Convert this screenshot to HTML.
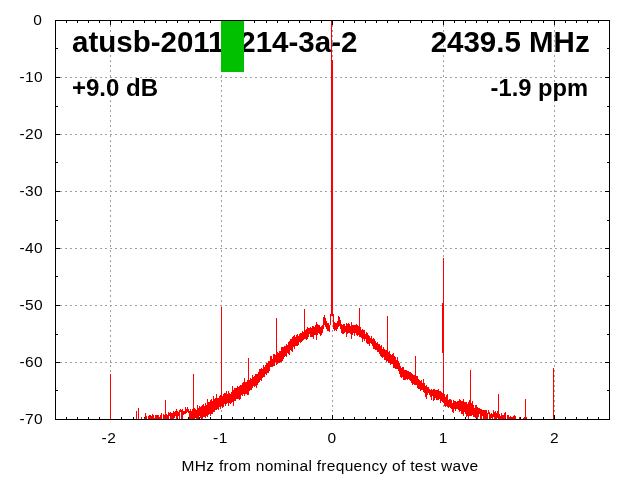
<!DOCTYPE html>
<html><head><meta charset="utf-8"><style>
html,body{margin:0;padding:0;background:#fff;width:640px;height:480px;overflow:hidden}
svg{display:block;will-change:transform}
text{font-family:"Liberation Sans",sans-serif}
</style></head><body>
<svg width="640" height="480" viewBox="0 0 640 480">
<rect width="640" height="480" fill="#fff"/>
<path d="M55,362.5 H609 M55,305.5 H609 M55,248.5 H609 M55,191.5 H609 M55,134.5 H609 M55,77.5 H609 M110.5,20 V419 M221.5,20 V419 M332.5,20 V419 M443.5,20 V419 M554.5,20 V419" stroke="#a0a0a0" stroke-width="1" stroke-dasharray="2,3" fill="none"/>
<g font-size="15.5" fill="#000" letter-spacing="0.4"><text x="42.300000000000004" y="25.0" text-anchor="end">0</text><text x="43.1" y="82.0" text-anchor="end">-10</text><text x="43.1" y="139.0" text-anchor="end">-20</text><text x="43.1" y="196.0" text-anchor="end">-30</text><text x="43.1" y="253.0" text-anchor="end">-40</text><text x="43.1" y="310.0" text-anchor="end">-50</text><text x="43.1" y="367.0" text-anchor="end">-60</text><text x="43.1" y="424.0" text-anchor="end">-70</text><text x="108.9" y="443" text-anchor="middle">-2</text><text x="220.4" y="443" text-anchor="middle">-1</text><text x="332.0" y="443" text-anchor="middle">0</text><text x="443.3" y="443" text-anchor="middle">1</text><text x="554.6" y="443" text-anchor="middle">2</text>
<text x="330" y="471" text-anchor="middle" letter-spacing="0.3">MHz from nominal frequency of test wave</text></g>
<g font-weight="bold" fill="#000">
<text x="72" y="52" font-size="29.5">atusb-20111214-3a-2</text>
<text x="589.7" y="52" font-size="29.5" text-anchor="end">2439.5 MHz</text>
<text x="72" y="95.5" font-size="24">+9.0 dB</text>
<text x="588" y="95.5" font-size="23.7" text-anchor="end">-1.9 ppm</text>
</g>
<path d="M55,20.5 h5 M610,20.5 h-5 M55,48.5 h3 M610,48.5 h-3 M55,77.5 h5 M610,77.5 h-5 M55,106.5 h3 M610,106.5 h-3 M55,134.5 h5 M610,134.5 h-5 M55,162.5 h3 M610,162.5 h-3 M55,191.5 h5 M610,191.5 h-5 M55,220.5 h3 M610,220.5 h-3 M55,248.5 h5 M610,248.5 h-5 M55,276.5 h3 M610,276.5 h-3 M55,305.5 h5 M610,305.5 h-5 M55,334.5 h3 M610,334.5 h-3 M55,362.5 h5 M610,362.5 h-5 M55,390.5 h3 M610,390.5 h-3 M55,419.5 h5 M610,419.5 h-5 M55.5,420 v-3 M55.5,20 v3 M66.5,420 v-3 M66.5,20 v3 M77.5,420 v-3 M77.5,20 v3 M88.5,420 v-3 M88.5,20 v3 M99.5,420 v-3 M99.5,20 v3 M110.5,420 v-5 M110.5,20 v5 M121.5,420 v-3 M121.5,20 v3 M133.5,420 v-3 M133.5,20 v3 M144.5,420 v-3 M144.5,20 v3 M155.5,420 v-3 M155.5,20 v3 M166.5,420 v-3 M166.5,20 v3 M177.5,420 v-3 M177.5,20 v3 M188.5,420 v-3 M188.5,20 v3 M199.5,420 v-3 M199.5,20 v3 M210.5,420 v-3 M210.5,20 v3 M221.5,420 v-5 M221.5,20 v5 M232.5,420 v-3 M232.5,20 v3 M243.5,420 v-3 M243.5,20 v3 M254.5,420 v-3 M254.5,20 v3 M266.5,420 v-3 M266.5,20 v3 M277.5,420 v-3 M277.5,20 v3 M288.5,420 v-3 M288.5,20 v3 M299.5,420 v-3 M299.5,20 v3 M310.5,420 v-3 M310.5,20 v3 M321.5,420 v-3 M321.5,20 v3 M332.5,420 v-5 M332.5,20 v5 M343.5,420 v-3 M343.5,20 v3 M354.5,420 v-3 M354.5,20 v3 M365.5,420 v-3 M365.5,20 v3 M376.5,420 v-3 M376.5,20 v3 M387.5,420 v-3 M387.5,20 v3 M398.5,420 v-3 M398.5,20 v3 M410.5,420 v-3 M410.5,20 v3 M421.5,420 v-3 M421.5,20 v3 M432.5,420 v-3 M432.5,20 v3 M443.5,420 v-5 M443.5,20 v5 M454.5,420 v-3 M454.5,20 v3 M465.5,420 v-3 M465.5,20 v3 M476.5,420 v-3 M476.5,20 v3 M487.5,420 v-3 M487.5,20 v3 M498.5,420 v-3 M498.5,20 v3 M509.5,420 v-3 M509.5,20 v3 M520.5,420 v-3 M520.5,20 v3 M531.5,420 v-3 M531.5,20 v3 M543.5,420 v-3 M543.5,20 v3 M554.5,420 v-5 M554.5,20 v5 M565.5,420 v-3 M565.5,20 v3 M576.5,420 v-3 M576.5,20 v3 M587.5,420 v-3 M587.5,20 v3 M598.5,420 v-3 M598.5,20 v3 M609.5,420 v-3 M609.5,20 v3" stroke="#000" stroke-width="1" fill="none"/>
<rect x="55.5" y="20.5" width="554" height="399" stroke="#000" stroke-width="1" fill="none"/>
<defs><clipPath id="c"><rect x="56" y="21" width="553" height="398"/></clipPath></defs>
<g clip-path="url(#c)" fill="#f00" shape-rendering="crispEdges">
<path d="M136,417h1V426h-1ZM138,414h1V425h-1ZM141,417h1V426h-1ZM144,418h1V425h-1ZM145,416h1V424h-1ZM146,416h1V425h-1ZM148,416h1V426h-1ZM149,415h1V423h-1ZM150,415h1V424h-1ZM151,416h1V423h-1ZM152,414h1V421h-1ZM153,415h1V423h-1ZM154,418h1V425h-1ZM155,415h1V424h-1ZM156,415h1V422h-1ZM157,415h1V424h-1ZM158,415h1V422h-1ZM159,417h1V422h-1ZM160,415h1V425h-1ZM161,413h1V424h-1ZM163,414h1V423h-1ZM164,415h1V422h-1ZM165,414h1V421h-1ZM166,414h1V422h-1ZM167,415h1V421h-1ZM168,412h1V422h-1ZM169,413h1V416h-1ZM170,412h1V422h-1ZM171,413h1V421h-1ZM172,413h1V422h-1ZM173,411h1V422h-1ZM174,412h1V418h-1ZM175,411h1V416h-1ZM176,409h1V421h-1ZM177,411h1V418h-1ZM178,412h1V416h-1ZM179,410h1V419h-1ZM180,409h1V412h-1ZM181,410h1V420h-1ZM182,409h1V419h-1ZM183,411h1V415h-1ZM184,411h1V414h-1ZM185,407h1V414h-1ZM186,409h1V413h-1ZM187,407h1V412h-1ZM188,409h1V413h-1ZM189,411h1V419h-1ZM190,409h1V419h-1ZM191,411h1V423h-1ZM192,409h1V420h-1ZM193,409h1V420h-1ZM194,408h1V422h-1ZM195,409h1V418h-1ZM196,410h1V421h-1ZM197,405h1V420h-1ZM198,408h1V420h-1ZM199,406h1V416h-1ZM200,407h1V418h-1ZM201,406h1V419h-1ZM202,405h1V419h-1ZM203,404h1V417h-1ZM204,406h1V417h-1ZM205,403h1V418h-1ZM206,405h1V416h-1ZM207,399h1V417h-1ZM208,402h1V415h-1ZM209,402h1V414h-1ZM210,400h1V416h-1ZM211,399h1V414h-1ZM212,401h1V414h-1ZM213,396h1V412h-1ZM214,399h1V412h-1ZM215,398h1V410h-1ZM216,394h1V410h-1ZM217,398h1V409h-1ZM218,398h1V410h-1ZM219,396h1V407h-1ZM220,395h1V409h-1ZM221,396h1V406h-1ZM222,396h1V408h-1ZM223,394h1V407h-1ZM224,393h1V404h-1ZM225,393h1V406h-1ZM226,391h1V404h-1ZM227,394h1V403h-1ZM228,391h1V406h-1ZM229,393h1V403h-1ZM230,394h1V404h-1ZM231,392h1V403h-1ZM232,386h1V402h-1ZM233,390h1V406h-1ZM234,388h1V401h-1ZM235,388h1V401h-1ZM236,388h1V399h-1ZM237,386h1V399h-1ZM238,387h1V399h-1ZM239,386h1V400h-1ZM240,385h1V399h-1ZM241,385h1V395h-1ZM242,383h1V396h-1ZM243,382h1V394h-1ZM244,378h1V396h-1ZM245,382h1V394h-1ZM246,382h1V394h-1ZM247,380h1V395h-1ZM248,380h1V395h-1ZM249,380h1V391h-1ZM250,378h1V390h-1ZM251,379h1V390h-1ZM252,375h1V388h-1ZM253,377h1V386h-1ZM254,376h1V387h-1ZM255,374h1V386h-1ZM256,374h1V388h-1ZM257,374h1V385h-1ZM258,372h1V383h-1ZM259,369h1V382h-1ZM260,369h1V380h-1ZM261,368h1V381h-1ZM262,369h1V378h-1ZM263,365h1V377h-1ZM264,367h1V377h-1ZM265,365h1V374h-1ZM266,363h1V375h-1ZM267,363h1V373h-1ZM268,361h1V373h-1ZM269,361h1V371h-1ZM270,356h1V367h-1ZM271,356h1V367h-1ZM272,359h1V367h-1ZM273,354h1V366h-1ZM274,354h1V366h-1ZM275,355h1V362h-1ZM276,354h1V365h-1ZM277,352h1V364h-1ZM278,353h1V363h-1ZM279,351h1V363h-1ZM280,351h1V362h-1ZM281,347h1V362h-1ZM282,347h1V361h-1ZM283,347h1V359h-1ZM284,346h1V357h-1ZM285,346h1V356h-1ZM286,344h1V357h-1ZM287,345h1V353h-1ZM288,342h1V354h-1ZM289,341h1V355h-1ZM290,339h1V350h-1ZM291,339h1V351h-1ZM292,337h1V352h-1ZM293,336h1V347h-1ZM294,335h1V349h-1ZM295,337h1V346h-1ZM296,335h1V346h-1ZM297,334h1V346h-1ZM298,336h1V345h-1ZM299,334h1V342h-1ZM300,333h1V343h-1ZM301,333h1V342h-1ZM302,331h1V341h-1ZM303,332h1V340h-1ZM304,330h1V339h-1ZM305,330h1V339h-1ZM306,329h1V340h-1ZM307,327h1V339h-1ZM308,328h1V337h-1ZM309,328h1V334h-1ZM310,327h1V337h-1ZM311,328h1V337h-1ZM312,326h1V337h-1ZM313,326h1V339h-1ZM314,327h1V335h-1ZM315,325h1V335h-1ZM316,322h1V340h-1ZM317,324h1V335h-1ZM318,325h1V333h-1ZM319,325h1V334h-1ZM320,327h1V336h-1ZM321,326h1V335h-1ZM322,325h1V333h-1ZM323,317h1V329h-1ZM324,315h1V325h-1ZM325,318h1V327h-1ZM326,321h1V329h-1ZM327,323h1V331h-1ZM328,323h1V331h-1ZM329,325h1V332h-1ZM330,314h1V325h-1ZM333,314h1V329h-1ZM334,322h1V331h-1ZM335,323h1V330h-1ZM336,323h1V331h-1ZM337,321h1V329h-1ZM338,316h1V327h-1ZM339,317h1V326h-1ZM340,320h1V329h-1ZM341,324h1V333h-1ZM342,325h1V334h-1ZM343,324h1V334h-1ZM344,324h1V333h-1ZM345,326h1V332h-1ZM346,323h1V337h-1ZM347,324h1V334h-1ZM348,323h1V333h-1ZM349,324h1V333h-1ZM350,326h1V334h-1ZM351,322h1V339h-1ZM352,325h1V335h-1ZM353,325h1V333h-1ZM354,325h1V336h-1ZM355,325h1V333h-1ZM356,324h1V335h-1ZM357,325h1V336h-1ZM358,326h1V335h-1ZM359,326h1V337h-1ZM360,327h1V337h-1ZM361,330h1V338h-1ZM362,329h1V342h-1ZM363,330h1V339h-1ZM364,330h1V341h-1ZM365,334h1V339h-1ZM366,332h1V343h-1ZM367,333h1V344h-1ZM368,335h1V344h-1ZM369,336h1V346h-1ZM370,338h1V343h-1ZM371,336h1V344h-1ZM372,339h1V346h-1ZM373,338h1V349h-1ZM374,339h1V349h-1ZM375,341h1V350h-1ZM376,343h1V350h-1ZM377,342h1V352h-1ZM378,344h1V352h-1ZM379,344h1V354h-1ZM380,346h1V356h-1ZM381,345h1V357h-1ZM382,349h1V358h-1ZM383,347h1V357h-1ZM384,349h1V360h-1ZM385,350h1V360h-1ZM386,350h1V362h-1ZM387,351h1V361h-1ZM388,352h1V363h-1ZM389,351h1V363h-1ZM390,354h1V365h-1ZM391,355h1V364h-1ZM392,354h1V364h-1ZM393,353h1V368h-1ZM394,356h1V368h-1ZM395,357h1V369h-1ZM396,360h1V369h-1ZM397,357h1V369h-1ZM398,361h1V371h-1ZM399,363h1V374h-1ZM400,366h1V377h-1ZM401,368h1V378h-1ZM402,367h1V377h-1ZM403,367h1V380h-1ZM404,370h1V380h-1ZM405,370h1V380h-1ZM406,370h1V379h-1ZM407,371h1V380h-1ZM408,371h1V379h-1ZM409,372h1V380h-1ZM410,372h1V381h-1ZM411,373h1V383h-1ZM412,374h1V385h-1ZM413,375h1V384h-1ZM414,375h1V385h-1ZM415,377h1V385h-1ZM416,376h1V385h-1ZM417,376h1V388h-1ZM418,379h1V389h-1ZM419,380h1V389h-1ZM420,381h1V391h-1ZM421,380h1V390h-1ZM422,383h1V390h-1ZM423,379h1V392h-1ZM424,383h1V393h-1ZM425,386h1V397h-1ZM426,385h1V399h-1ZM427,387h1V395h-1ZM428,387h1V393h-1ZM429,389h1V395h-1ZM430,390h1V397h-1ZM431,389h1V400h-1ZM432,390h1V396h-1ZM433,389h1V401h-1ZM434,389h1V400h-1ZM435,390h1V398h-1ZM436,390h1V400h-1ZM437,390h1V400h-1ZM438,389h1V400h-1ZM439,391h1V399h-1ZM440,391h1V403h-1ZM441,392h1V401h-1ZM442,393h1V402h-1ZM443,394h1V403h-1ZM444,394h1V406h-1ZM445,397h1V407h-1ZM446,395h1V406h-1ZM447,394h1V407h-1ZM448,400h1V408h-1ZM449,399h1V407h-1ZM450,399h1V408h-1ZM451,400h1V409h-1ZM452,403h1V412h-1ZM453,400h1V413h-1ZM454,401h1V409h-1ZM455,401h1V411h-1ZM456,402h1V409h-1ZM457,401h1V409h-1ZM458,401h1V410h-1ZM459,399h1V412h-1ZM460,400h1V411h-1ZM461,401h1V414h-1ZM462,401h1V414h-1ZM463,399h1V416h-1ZM464,402h1V412h-1ZM465,402h1V414h-1ZM466,402h1V417h-1ZM467,404h1V416h-1ZM468,402h1V419h-1ZM469,400h1V416h-1ZM470,401h1V416h-1ZM471,403h1V416h-1ZM472,401h1V415h-1ZM473,405h1V417h-1ZM474,408h1V417h-1ZM475,405h1V418h-1ZM476,405h1V418h-1ZM477,407h1V419h-1ZM478,408h1V417h-1ZM479,408h1V414h-1ZM480,409h1V419h-1ZM481,409h1V421h-1ZM482,410h1V416h-1ZM483,410h1V420h-1ZM484,410h1V420h-1ZM485,410h1V422h-1ZM486,410h1V421h-1ZM487,413h1V421h-1ZM488,410h1V414h-1ZM489,412h1V424h-1ZM490,414h1V424h-1ZM491,413h1V418h-1ZM492,414h1V420h-1ZM493,410h1V417h-1ZM494,412h1V425h-1ZM495,411h1V423h-1ZM496,413h1V421h-1ZM497,411h1V418h-1ZM498,414h1V422h-1ZM499,414h1V422h-1ZM500,416h1V421h-1ZM501,413h1V425h-1ZM502,415h1V422h-1ZM503,415h1V422h-1ZM504,413h1V422h-1ZM505,412h1V421h-1ZM507,415h1V421h-1ZM508,415h1V421h-1ZM509,417h1V422h-1ZM510,416h1V423h-1ZM511,417h1V420h-1ZM512,417h1V423h-1ZM513,416h1V422h-1ZM514,415h1V422h-1ZM515,416h1V424h-1ZM519,417h1V427h-1ZM523,418h1V424h-1ZM524,417h1V429h-1ZM525,418h1V424h-1ZM526,417h1V426h-1Z"/>
<path d="M110,374h1V428h-1ZM136,411h1V421h-1ZM138,408h1V421h-1ZM145,413h1V420h-1ZM165,400h1V418h-1ZM193,374h1V414h-1ZM221,307h1V402h-1ZM248,358h1V386h-1ZM276,318h1V359h-1ZM304,309h1V335h-1ZM331,21h1V316h-1ZM332,60h1V316h-1ZM359,308h1V332h-1ZM387,316h1V356h-1ZM415,356h1V381h-1ZM443,258h1V399h-1ZM442,303h1V353h-1ZM470,370h1V410h-1ZM498,394h1V418h-1ZM525,399h1V422h-1ZM553,368h1V426h-1Z"/>
</g>
<rect x="221" y="21" width="23" height="51" fill="#00c000"/>
</svg>
</body></html>
